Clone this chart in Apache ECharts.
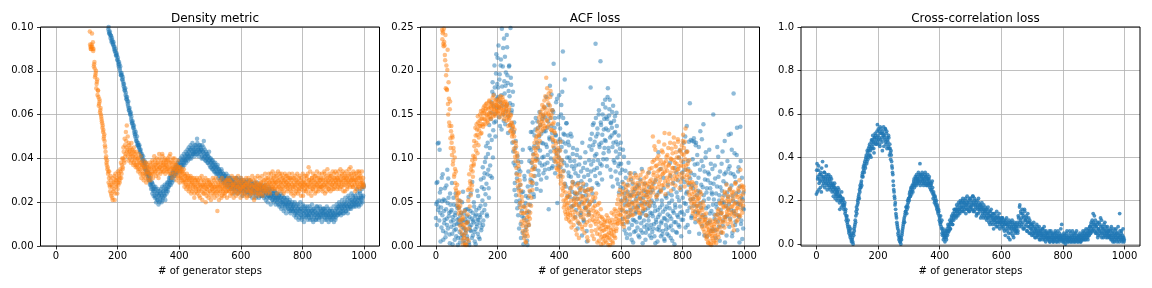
<!DOCTYPE html>
<html>
<head>
<meta charset="utf-8">
<script src="https://cdn.jsdelivr.net/npm/echarts@6/dist/echarts.min.js"></script>
<style>
html,body{margin:0;padding:0;background:#fff;}
#c{width:1152px;height:288px;}
</style>
</head>
<body>
<div id="c"></div>
<script>
// ---- data ----
const STEP = 2;                       // each array holds every other generator step
const xTicks = [0, 200, 400, 600, 800, 1000];
const titles = ['Density metric', 'ACF loss', 'Cross-correlation loss'];
const xLabel = '# of generator steps';
const densityTicks = [0, 0.02, 0.04, 0.06, 0.08, 0.10];
const acfTicks = [0, 0.05, 0.10, 0.15, 0.20, 0.25];
const crossTicks = [0, 0.2, 0.4, 0.6, 0.8, 1.0];

// Density metric, blue run: even steps from 170, odd steps from 171
const densityBlueStart = 170;
const densityBlue = [
0.099,0.098,0.097,0.0965,0.096,0.094,0.095,0.093,0.092,0.091,0.091,0.089,0.088,0.087,0.087,0.085,0.084,0.082,0.083,0.080,0.079,0.078,0.078,0.076,0.075,
0.073,0.072,0.071,0.069,0.068,0.067,0.066,0.064,0.063,0.062,0.061,0.060,0.058,0.057,0.056,0.055,0.054,0.052,0.051,0.051,0.049,0.048,0.047,0.046,0.046,
0.045,0.044,0.043,0.042,0.041,0.040,0.039,0.038,0.038,0.036,0.037,0.035,0.034,0.034,0.033,0.031,0.032,0.030,0.029,0.028,0.027,0.029,0.026,0.025,0.027,
0.025,0.023,0.026,0.022,0.024,0.021,0.025,0.023,0.020,0.024,0.022,0.026,0.023,0.021,0.025,0.024,0.027,0.023,0.026,0.025,0.028,0.026,0.029,0.027,0.030,
0.029,0.031,0.030,0.032,0.031,0.033,0.034,0.032,0.035,0.034,0.036,0.033,0.035,0.037,0.036,0.035,0.038,0.036,0.037,0.039,0.038,0.037,0.040,0.038,0.039,
0.040,0.039,0.041,0.040,0.042,0.041,0.043,0.040,0.042,0.044,0.041,0.043,0.042,0.045,0.043,0.042,0.044,0.046,0.043,0.049,0.042,0.045,0.044,0.043,0.046,
0.042,0.044,0.041,0.043,0.040,0.048,0.042,0.041,0.039,0.042,0.040,0.038,0.041,0.039,0.037,0.040,0.038,0.036,0.039,0.037,0.035,0.038,0.036,0.034,0.037,
0.035,0.034,0.036,0.033,0.035,0.032,0.034,0.033,0.031,0.034,0.032,0.030,0.033,0.031,0.029,0.032,0.030,0.031,0.028,0.030,0.029,0.031,0.028,0.030,0.027,
0.029,0.027,0.030,0.028,0.026,0.029,0.027,0.028,0.031,0.026,0.028,0.027,0.029,0.025,0.028,0.030,0.026,0.027,0.029,0.025,0.028,0.026,0.027,0.029,0.025,
0.027,0.025,0.028,0.026,0.024,0.027,0.029,0.025,0.026,0.028,0.024,0.027,0.025,0.026,0.028,0.023,0.026,0.027,0.025,0.024,0.027,0.026,0.023,0.028,0.025,
0.026,0.024,0.025,0.027,0.023,0.025,0.024,0.026,0.022,0.025,0.023,0.024,0.026,0.022,0.024,0.023,0.021,0.024,0.022,0.023,0.025,0.021,0.022,0.024,0.020,
0.022,0.021,0.023,0.019,0.021,0.022,0.020,0.018,0.021,0.020,0.022,0.019,0.017,0.020,0.019,0.021,0.018,0.019,0.017,0.020,0.018,0.016,0.019,0.017,0.018,
0.016,0.019,0.017,0.015,0.018,0.016,0.014,0.017,0.019,0.015,0.013,0.016,0.017,0.014,0.012,0.016,0.018,0.015,0.013,0.017,0.014,0.016,0.015,0.018,0.014,
0.016,0.013,0.015,0.017,0.014,0.016,0.012,0.015,0.017,0.013,0.016,0.014,0.012,0.015,0.018,0.014,0.016,0.013,0.015,0.017,0.014,0.016,0.013,0.015,0.017,
0.015,0.013,0.016,0.014,0.012,0.015,0.017,0.014,0.013,0.016,0.015,0.012,0.014,0.016,0.013,0.015,0.011,0.014,0.016,0.013,0.015,0.017,0.014,0.016,0.018,
0.017,0.015,0.018,0.016,0.019,0.017,0.015,0.018,0.020,0.017,0.019,0.016,0.018,0.021,0.017,0.019,0.022,0.018,0.020,0.017,0.021,0.019,0.023,0.020,0.018,
0.021,0.019,0.022,0.020,0.024,0.021,0.019,0.022,0.025,0.020,0.023,0.021,0.027,0.022,0.028
];
const densityBlueOddStart = 171;
const densityBlueOdd = [
0.100,0.097,0.098,0.095,0.096,0.093,0.094,0.092,0.093,0.090,0.089,0.090,0.087,0.088,0.085,0.086,0.083,0.084,0.081,0.082,0.078,0.079,0.076,0.077,0.074,
0.074,0.071,0.072,0.070,0.067,0.068,0.065,0.066,0.062,0.063,0.060,0.061,0.059,0.056,0.057,0.054,0.055,0.053,0.050,0.052,0.048,0.050,0.046,0.047,0.045,
0.046,0.043,0.044,0.041,0.042,0.039,0.041,0.037,0.039,0.035,0.038,0.033,0.036,0.032,0.034,0.030,0.033,0.028,0.031,0.026,0.029,0.024,0.028,0.023,0.026,
0.022,0.027,0.020,0.024,0.021,0.026,0.019,0.023,0.025,0.021,0.024,0.020,0.027,0.022,0.025,0.023,0.028,0.021,0.026,0.024,0.029,0.025,0.027,0.031,0.028,
0.032,0.028,0.033,0.029,0.034,0.030,0.035,0.032,0.036,0.033,0.037,0.034,0.038,0.035,0.039,0.036,0.034,0.040,0.037,0.041,0.036,0.039,0.042,0.037,0.041,
0.043,0.038,0.042,0.044,0.039,0.045,0.041,0.044,0.046,0.040,0.045,0.047,0.042,0.044,0.041,0.046,0.043,0.045,0.042,0.047,0.044,0.041,0.046,0.043,0.045,
0.044,0.040,0.046,0.043,0.045,0.041,0.044,0.039,0.043,0.040,0.042,0.038,0.041,0.043,0.039,0.036,0.040,0.038,0.035,0.039,0.037,0.034,0.036,0.038,0.033,
0.036,0.033,0.037,0.031,0.035,0.034,0.030,0.033,0.035,0.031,0.029,0.033,0.030,0.032,0.028,0.031,0.033,0.027,0.030,0.032,0.027,0.029,0.031,0.026,0.029,
0.031,0.026,0.029,0.024,0.030,0.028,0.025,0.031,0.027,0.029,0.024,0.030,0.026,0.028,0.031,0.025,0.029,0.023,0.028,0.030,0.026,0.024,0.029,0.027,0.030,
0.024,0.028,0.026,0.030,0.023,0.027,0.025,0.029,0.022,0.026,0.028,0.024,0.029,0.025,0.022,0.027,0.029,0.024,0.026,0.022,0.028,0.025,0.027,0.023,0.026,
0.023,0.027,0.022,0.025,0.028,0.021,0.024,0.026,0.020,0.023,0.027,0.022,0.025,0.019,0.023,0.026,0.021,0.024,0.020,0.025,0.022,0.019,0.023,0.021,0.024,
0.019,0.023,0.018,0.022,0.024,0.017,0.020,0.023,0.019,0.016,0.022,0.018,0.021,0.015,0.019,0.022,0.017,0.020,0.016,0.021,0.015,0.019,0.017,0.020,0.016,
0.018,0.014,0.020,0.016,0.013,0.019,0.015,0.017,0.012,0.018,0.016,0.020,0.014,0.017,0.013,0.019,0.015,0.011,0.016,0.018,0.013,0.017,0.014,0.012,0.016,
0.014,0.018,0.012,0.016,0.013,0.019,0.015,0.011,0.017,0.014,0.016,0.012,0.018,0.013,0.015,0.017,0.012,0.014,0.018,0.013,0.016,0.011,0.015,0.017,0.014,
0.017,0.012,0.016,0.014,0.018,0.013,0.015,0.011,0.016,0.013,0.017,0.014,0.012,0.016,0.014,0.018,0.013,0.015,0.012,0.017,0.019,0.014,0.018,0.015,0.020,
0.015,0.019,0.014,0.017,0.021,0.016,0.019,0.015,0.018,0.022,0.016,0.020,0.018,0.015,0.023,0.019,0.017,0.021,0.018,0.024,0.020,0.018,0.022,0.019,0.021,
0.023,0.018,0.020,0.026,0.019,0.022,0.018,0.021,0.024,0.019,0.022,0.026,0.020,0.023,0.027
];

// Density metric, orange run: even steps from 110, odd steps from 111
const densityOrangeStart = 110;
const densityOrange = [
0.098,0.091,0.090,0.092,0.091,0.093,0.090,0.083,0.081,0.078,0.080,0.074,0.076,0.071,0.068,0.065,0.066,0.062,0.060,0.058,0.056,0.055,0.053,0.050,0.048,
0.045,0.040,0.038,0.039,0.036,0.034,0.031,0.028,0.025,0.030,0.023,0.027,0.021,0.029,0.026,0.032,0.024,0.030,0.028,0.031,0.026,0.029,0.033,0.030,0.031,
0.034,0.031,0.037,0.035,0.040,0.043,0.038,0.046,0.042,0.048,0.055,0.044,0.041,0.047,0.043,0.040,0.045,0.042,0.039,0.044,0.041,0.038,0.043,0.040,0.037,
0.041,0.038,0.036,0.040,0.035,0.039,0.037,0.033,0.038,0.036,0.034,0.037,0.032,0.036,0.035,0.031,0.038,0.033,0.036,0.034,0.030,0.035,0.033,0.037,0.032,
0.036,0.034,0.038,0.033,0.037,0.035,0.039,0.034,0.036,0.038,0.033,0.037,0.035,0.040,0.036,0.034,0.038,0.035,0.041,0.037,0.034,0.039,0.036,0.038,0.035,
0.037,0.035,0.039,0.034,0.041,0.036,0.038,0.033,0.037,0.035,0.040,0.034,0.036,0.038,0.032,0.035,0.037,0.034,0.036,0.031,0.035,0.033,0.036,0.032,0.034,
0.031,0.034,0.030,0.033,0.029,0.032,0.028,0.031,0.030,0.027,0.032,0.029,0.026,0.031,0.028,0.030,0.025,0.029,0.027,0.031,0.024,0.028,0.030,0.026,0.029,
0.027,0.029,0.025,0.028,0.022,0.027,0.030,0.026,0.028,0.024,0.029,0.027,0.025,0.020,0.028,0.026,0.030,0.024,0.027,0.029,0.025,0.028,0.023,0.027,0.026,
0.028,0.025,0.027,0.024,0.029,0.026,0.027,0.016,0.025,0.028,0.024,0.027,0.026,0.029,0.023,0.027,0.025,0.028,0.026,0.024,0.029,0.027,0.025,0.030,0.026,
0.028,0.025,0.027,0.030,0.026,0.024,0.028,0.027,0.029,0.025,0.027,0.031,0.026,0.028,0.024,0.027,0.030,0.025,0.028,0.026,0.029,0.027,0.024,0.028,0.026,
0.027,0.029,0.025,0.028,0.026,0.023,0.027,0.029,0.025,0.028,0.026,0.030,0.024,0.027,0.025,0.028,0.026,0.022,0.027,0.029,0.025,0.028,0.026,0.024,0.027,
0.026,0.028,0.025,0.029,0.027,0.024,0.028,0.026,0.030,0.027,0.025,0.029,0.026,0.028,0.031,0.027,0.025,0.029,0.028,0.033,0.026,0.029,0.027,0.031,0.028,
0.030,0.027,0.029,0.032,0.026,0.028,0.030,0.027,0.033,0.029,0.026,0.028,0.031,0.027,0.029,0.025,0.030,0.028,0.032,0.027,0.029,0.026,0.030,0.028,0.031,
0.027,0.029,0.025,0.028,0.031,0.026,0.029,0.027,0.024,0.030,0.028,0.026,0.029,0.027,0.031,0.025,0.028,0.030,0.026,0.029,0.027,0.023,0.028,0.030,0.026,
0.029,0.027,0.031,0.026,0.028,0.036,0.030,0.027,0.029,0.025,0.031,0.028,0.026,0.030,0.027,0.032,0.029,0.025,0.028,0.031,0.027,0.029,0.026,0.030,0.028,
0.031,0.027,0.029,0.026,0.030,0.028,0.033,0.027,0.029,0.025,0.031,0.028,0.030,0.026,0.029,0.032,0.027,0.030,0.028,0.034,0.029,0.026,0.031,0.028,0.030,
0.029,0.031,0.027,0.030,0.028,0.032,0.026,0.030,0.029,0.033,0.027,0.031,0.028,0.030,0.025,0.032,0.029,0.031,0.027,0.030,0.028,0.033,0.029,0.036,0.030,
0.028,0.031,0.027,0.030,0.033,0.028,0.030,0.026,0.032,0.029,0.031,0.027,0.034,0.029,0.031,0.028,0.030,0.027,0.029,0.028
];
const densityOrangeOddStart = 111;
const densityOrangeOdd = [
0.092,0.090,0.091,0.097,0.090,0.089,0.082,0.084,0.077,0.079,0.072,0.075,0.069,0.071,0.064,0.067,0.061,0.063,0.059,0.057,0.054,0.052,0.049,0.051,0.046,
0.043,0.041,0.037,0.035,0.033,0.029,0.034,0.027,0.032,0.024,0.028,0.022,0.031,0.025,0.029,0.021,0.033,0.027,0.030,0.024,0.034,0.028,0.032,0.029,0.035,
0.038,0.033,0.040,0.036,0.045,0.039,0.049,0.041,0.052,0.045,0.043,0.050,0.039,0.046,0.042,0.044,0.038,0.047,0.041,0.043,0.037,0.045,0.039,0.042,0.036,
0.043,0.037,0.040,0.034,0.042,0.038,0.035,0.041,0.031,0.037,0.033,0.039,0.030,0.036,0.033,0.038,0.029,0.034,0.037,0.031,0.036,0.033,0.038,0.030,0.035,
0.033,0.039,0.031,0.036,0.041,0.034,0.037,0.032,0.040,0.035,0.038,0.031,0.042,0.036,0.033,0.039,0.037,0.042,0.034,0.038,0.036,0.040,0.033,0.037,0.039,
0.034,0.040,0.036,0.038,0.033,0.042,0.035,0.039,0.031,0.036,0.038,0.033,0.040,0.035,0.037,0.030,0.034,0.039,0.032,0.036,0.029,0.034,0.031,0.035,0.030,
0.033,0.029,0.035,0.027,0.032,0.030,0.026,0.033,0.028,0.031,0.025,0.030,0.027,0.032,0.024,0.029,0.031,0.026,0.028,0.022,0.030,0.027,0.025,0.031,0.024,
0.030,0.026,0.023,0.031,0.028,0.025,0.032,0.021,0.027,0.030,0.024,0.028,0.031,0.026,0.023,0.029,0.027,0.022,0.030,0.025,0.028,0.021,0.029,0.026,0.031,
0.024,0.030,0.022,0.027,0.031,0.025,0.023,0.029,0.027,0.021,0.030,0.025,0.028,0.022,0.031,0.026,0.024,0.029,0.023,0.027,0.030,0.025,0.022,0.028,0.031,
0.025,0.030,0.023,0.029,0.026,0.032,0.024,0.028,0.022,0.031,0.025,0.029,0.023,0.030,0.027,0.032,0.024,0.029,0.026,0.022,0.031,0.025,0.030,0.027,0.023,
0.030,0.024,0.028,0.031,0.022,0.029,0.025,0.031,0.027,0.023,0.030,0.025,0.028,0.032,0.024,0.030,0.021,0.027,0.031,0.024,0.029,0.026,0.032,0.023,0.028,
0.031,0.024,0.029,0.026,0.032,0.023,0.030,0.027,0.025,0.033,0.028,0.031,0.024,0.030,0.026,0.033,0.029,0.024,0.031,0.027,0.030,0.034,0.026,0.032,0.029,
0.026,0.033,0.029,0.024,0.031,0.034,0.027,0.030,0.025,0.032,0.029,0.033,0.026,0.031,0.024,0.030,0.033,0.027,0.029,0.032,0.025,0.031,0.028,0.033,0.026,
0.031,0.024,0.030,0.033,0.027,0.023,0.031,0.028,0.032,0.025,0.030,0.033,0.024,0.029,0.026,0.032,0.028,0.023,0.031,0.027,0.033,0.029,0.025,0.032,0.028,
0.025,0.032,0.028,0.033,0.024,0.030,0.027,0.034,0.029,0.023,0.031,0.026,0.033,0.028,0.030,0.024,0.032,0.027,0.034,0.029,0.025,0.031,0.033,0.027,0.030,
0.027,0.033,0.025,0.031,0.028,0.034,0.024,0.030,0.032,0.027,0.035,0.029,0.026,0.033,0.031,0.025,0.032,0.028,0.030,0.026,0.033,0.031,0.027,0.034,0.029,
0.033,0.026,0.031,0.034,0.028,0.030,0.035,0.027,0.032,0.029,0.034,0.025,0.031,0.033,0.028,0.030,0.034,0.026,0.032,0.029,0.035,0.031,0.027,0.033,0.030,
0.032,0.027,0.034,0.029,0.031,0.025,0.033,0.030,0.028,0.034,0.027,0.031,0.033,0.026,0.032,0.029,0.034,0.028,0.031,0.027
];

// ACF loss, blue run
const acfBlueStart = 0;
const acfBlue = [
0.032,0.072,0.050,0.117,0.045,0.052,0.110,0.038,0.065,0.021,0.051,0.082,0.007,0.040,0.030,0.052,0.015,0.069,0.024,0.049,0.077,0.034,0.013,0.060,0.039,
0.022,0.072,0.002,0.029,0.047,0.018,0.035,0.060,0.011,0.025,0.043,0.009,0.031,0.052,0.004,0.024,0.038,0.013,0.029,0.062,0.006,0.020,0.041,0.015,0.027,
0.034,0.008,0.028,0.056,0.001,0.022,0.040,0.017,0.031,0.073,0.012,0.027,0.045,0.005,0.019,0.036,0.025,0.063,0.014,0.030,0.043,0.008,0.033,0.076,0.021,
0.038,0.090,0.029,0.065,0.083,0.047,0.101,0.071,0.034,0.118,0.087,0.055,0.126,0.092,0.145,0.164,0.078,0.187,0.132,0.173,0.206,0.151,0.142,0.219,0.168,
0.215,0.181,0.158,0.190,0.137,0.206,0.172,0.248,0.160,0.226,0.143,0.188,0.216,0.183,0.154,0.241,0.195,0.129,0.177,0.206,0.163,0.249,0.184,0.155,0.118,
0.176,0.095,0.141,0.072,0.112,0.058,0.083,0.043,0.097,0.066,0.020,0.052,0.085,0.009,0.061,0.034,0.110,0.002,0.045,0.076,0.018,0.057,0.029,0.006,0.068,
0.085,0.039,0.112,0.062,0.130,0.095,0.074,0.141,0.105,0.056,0.126,0.088,0.146,0.071,0.118,0.099,0.135,0.081,0.153,0.109,0.063,0.128,0.092,0.145,0.117,
0.102,0.158,0.087,0.131,0.170,0.113,0.095,0.142,0.042,0.124,0.183,0.108,0.137,0.089,0.155,0.119,0.208,0.097,0.146,0.127,0.164,0.110,0.049,0.139,0.101,
0.172,0.122,0.090,0.150,0.113,0.176,0.222,0.128,0.095,0.190,0.117,0.068,0.140,0.101,0.126,0.084,0.115,0.056,0.097,0.079,0.125,0.062,0.105,0.046,0.088,
0.071,0.033,0.092,0.059,0.110,0.020,0.080,0.047,0.066,0.101,0.038,0.074,0.012,0.057,0.089,0.028,0.063,0.095,0.043,0.070,0.005,0.052,0.081,0.036,0.114,
0.075,0.181,0.093,0.128,0.060,0.115,0.140,0.087,0.103,0.231,0.125,0.072,0.134,0.098,0.150,0.116,0.083,0.211,0.138,0.092,0.127,0.162,0.106,0.145,0.121,
0.158,0.134,0.099,0.145,0.180,0.112,0.149,0.167,0.087,0.140,0.126,0.153,0.068,0.118,0.143,0.095,0.130,0.108,0.152,0.076,0.116,0.091,0.061,0.105,0.083,
0.118,0.052,0.087,0.031,0.066,0.102,0.018,0.055,0.078,0.039,0.009,0.062,0.027,0.047,0.083,0.013,0.036,0.058,0.024,0.071,0.004,0.044,0.029,0.065,0.017,
0.039,0.057,0.021,0.046,0.070,0.010,0.033,0.054,0.026,0.088,0.015,0.040,0.063,0.022,0.048,0.007,0.035,0.058,0.019,0.043,0.029,0.067,0.012,0.038,0.024,
0.052,0.016,0.034,0.071,0.025,0.045,0.003,0.030,0.058,0.019,0.041,0.107,0.022,0.036,0.063,0.011,0.028,0.047,0.017,0.078,0.032,0.006,0.042,0.024,0.055,
0.014,0.036,0.060,0.021,0.043,0.095,0.009,0.031,0.052,0.018,0.072,0.038,0.002,0.047,0.027,0.084,0.015,0.056,0.033,0.101,0.022,0.045,0.064,0.011,0.039,
0.077,0.030,0.118,0.049,0.087,0.021,0.060,0.137,0.040,0.097,0.070,0.016,0.163,0.053,0.083,0.034,0.120,0.066,0.046,0.119,0.093,0.027,0.118,0.058,0.104,
0.038,0.078,0.014,0.061,0.131,0.044,0.097,0.023,0.067,0.139,0.052,0.085,0.033,0.107,0.061,0.011,0.075,0.045,0.082,0.028,0.066,0.094,0.040,0.059,0.019,
0.150,0.053,0.031,0.077,0.009,0.048,0.068,0.036,0.102,0.022,0.058,0.085,0.041,0.015,0.063,0.108,0.029,0.050,0.082,0.004,0.046,0.071,0.034,0.097,0.056,
0.127,0.022,0.065,0.083,0.041,0.110,0.015,0.052,0.174,0.037,0.079,0.028,0.060,0.104,0.018,0.048,0.090,0.033,0.068,0.136,0.025,0.055,0.008,0.043,0.061
];
const acfBlueOddStart = 1;
const acfBlueOdd = [
0.048,0.024,0.073,0.041,0.118,0.029,0.061,0.005,0.044,0.078,0.035,0.017,0.053,0.026,0.066,0.010,0.042,0.031,0.087,0.020,0.055,0.038,0.003,0.047,0.028,
0.041,0.014,0.033,0.055,0.024,0.007,0.038,0.019,0.046,0.030,0.001,0.026,0.044,0.016,0.035,0.009,0.028,0.050,0.021,0.012,0.037,0.003,0.030,0.018,0.042,
0.011,0.026,0.042,0.004,0.033,0.018,0.060,0.024,0.009,0.038,0.029,0.050,0.016,0.034,0.002,0.041,0.022,0.030,0.057,0.010,0.035,0.026,0.046,0.018,0.067,
0.052,0.024,0.078,0.041,0.096,0.059,0.114,0.036,0.082,0.105,0.066,0.138,0.112,0.080,0.152,0.121,0.176,0.101,0.160,0.141,0.181,0.125,0.197,0.158,0.185,
0.170,0.229,0.147,0.196,0.164,0.213,0.133,0.182,0.205,0.150,0.237,0.174,0.139,0.198,0.160,0.227,0.186,0.148,0.205,0.171,0.138,0.192,0.152,0.134,0.161,
0.108,0.130,0.064,0.092,0.120,0.051,0.077,0.103,0.035,0.088,0.047,0.070,0.025,0.096,0.040,0.015,0.062,0.032,0.080,0.011,0.049,0.022,0.038,0.001,0.055,
0.024,0.097,0.047,0.076,0.110,0.069,0.130,0.090,0.059,0.114,0.080,0.133,0.100,0.065,0.142,0.112,0.086,0.125,0.095,0.138,0.076,0.118,0.101,0.149,0.083,
0.131,0.093,0.147,0.116,0.078,0.135,0.104,0.161,0.088,0.122,0.146,0.100,0.173,0.129,0.091,0.153,0.112,0.135,0.083,0.126,0.105,0.168,0.092,0.119,0.147,
0.109,0.134,0.080,0.161,0.098,0.119,0.146,0.086,0.127,0.071,0.108,0.140,0.092,0.057,0.119,0.080,0.101,0.066,0.128,0.045,0.091,0.073,0.112,0.054,0.097,
0.060,0.083,0.041,0.104,0.054,0.072,0.026,0.093,0.061,0.035,0.085,0.050,0.118,0.068,0.030,0.079,0.044,0.107,0.058,0.017,0.087,0.064,0.039,0.098,0.048,
0.122,0.085,0.110,0.066,0.138,0.097,0.051,0.119,0.080,0.146,0.105,0.089,0.128,0.070,0.155,0.113,0.094,0.141,0.118,0.076,0.150,0.099,0.133,0.112,0.167,
0.120,0.147,0.091,0.170,0.132,0.108,0.156,0.124,0.141,0.079,0.135,0.113,0.160,0.098,0.129,0.148,0.085,0.119,0.137,0.101,0.071,0.126,0.094,0.111,0.067,
0.094,0.041,0.073,0.110,0.025,0.060,0.047,0.086,0.014,0.052,0.070,0.033,0.095,0.020,0.058,0.041,0.076,0.007,0.050,0.030,0.062,0.016,0.083,0.037,0.053,
0.027,0.068,0.044,0.012,0.060,0.032,0.076,0.018,0.049,0.037,0.003,0.055,0.029,0.071,0.041,0.015,0.062,0.024,0.050,0.034,0.084,0.020,0.046,0.061,0.009,
0.037,0.064,0.020,0.049,0.011,0.040,0.075,0.027,0.053,0.005,0.033,0.061,0.018,0.044,0.088,0.026,0.052,0.013,0.039,0.066,0.008,0.031,0.057,0.019,0.045,
0.029,0.070,0.012,0.049,0.034,0.080,0.023,0.058,0.006,0.040,0.065,0.027,0.089,0.044,0.016,0.061,0.035,0.075,0.024,0.052,0.109,0.038,0.068,0.030,0.084,
0.055,0.096,0.036,0.073,0.125,0.048,0.108,0.062,0.024,0.088,0.119,0.044,0.077,0.121,0.032,0.069,0.099,0.054,0.123,0.081,0.039,0.115,0.072,0.046,0.094,
0.063,0.113,0.030,0.087,0.049,0.070,0.122,0.035,0.091,0.058,0.012,0.076,0.101,0.043,0.066,0.026,0.084,0.054,0.110,0.037,0.072,0.017,0.061,0.088,0.047,
0.071,0.036,0.092,0.018,0.060,0.044,0.113,0.028,0.079,0.052,0.006,0.067,0.037,0.094,0.049,0.023,0.074,0.058,0.120,0.033,0.084,0.012,0.061,0.043,0.088,
0.048,0.091,0.031,0.128,0.069,0.011,0.057,0.082,0.040,0.106,0.024,0.073,0.050,0.135,0.035,0.085,0.062,0.004,0.047,0.097,0.029,0.078,0.053,0.020,0.042
];

// ACF loss, orange run (steps below 20 are above the axis top)
const acfOrangeStart = 20;
const acfOrange = [
0.247,0.243,0.231,0.248,0.229,0.212,0.180,0.206,0.178,0.224,0.150,0.168,0.137,0.165,0.112,
0.137,0.104,0.124,0.097,0.108,0.082,0.088,0.066,0.063,0.055,0.047,0.060,0.037,0.041,0.023,0.051,0.030,0.014,0.033,0.002,0.024,0.009,0.040,0.003,0.019,
0.001,0.027,0.064,0.006,0.082,0.045,0.071,0.087,0.064,0.098,0.079,0.092,0.120,0.102,0.135,0.109,0.139,0.127,0.148,0.115,0.132,0.143,0.137,0.154,0.129,
0.146,0.155,0.139,0.152,0.160,0.144,0.157,0.149,0.163,0.141,0.156,0.151,0.165,0.147,0.158,0.162,0.153,0.169,0.148,0.159,0.155,0.165,0.151,0.161,0.157,
0.163,0.154,0.168,0.158,0.151,0.166,0.160,0.155,0.170,0.152,0.162,0.158,0.149,0.165,0.156,0.161,0.147,0.153,0.144,0.158,0.138,0.150,0.132,0.141,0.128,
0.136,0.119,0.125,0.108,0.097,0.114,0.082,0.102,0.068,0.091,0.058,0.075,0.044,0.063,0.028,0.051,0.017,0.037,0.009,0.026,0.044,0.004,0.018,0.033,0.011,
0.047,0.024,0.063,0.038,0.081,0.055,0.095,0.072,0.104,0.088,0.118,0.097,0.110,0.125,0.103,0.134,0.117,0.142,0.127,0.138,0.150,0.131,0.145,0.156,0.140,
0.148,0.166,0.135,0.157,0.192,0.143,0.168,0.151,0.174,0.139,0.160,0.177,0.146,0.132,0.155,0.121,0.141,0.108,0.129,0.096,0.117,0.103,0.087,0.112,0.094,
0.101,0.082,0.119,0.075,0.093,0.066,0.085,0.052,0.071,0.047,0.061,0.036,0.055,0.042,0.037,0.049,0.029,0.058,0.035,0.066,0.021,0.045,0.073,0.031,0.052,
0.039,0.061,0.018,0.047,0.069,0.028,0.054,0.009,0.043,0.064,0.033,0.057,0.022,0.048,0.071,0.036,0.015,0.052,0.041,0.062,0.027,0.045,0.006,0.058,0.038,
0.050,0.023,0.065,0.034,0.012,0.056,0.040,0.028,0.046,0.018,0.060,0.031,0.004,0.037,0.021,0.049,0.013,0.026,0.002,0.033,0.017,0.008,0.024,0.011,0.029,
0.006,0.019,0.035,0.010,0.022,0.001,0.015,0.028,0.007,0.018,0.038,0.012,0.003,0.024,0.016,0.042,0.009,0.031,0.020,0.048,0.026,0.037,0.058,0.030,0.044,
0.035,0.051,0.027,0.062,0.040,0.022,0.055,0.033,0.068,0.046,0.029,0.060,0.038,0.075,0.050,0.044,0.083,0.057,0.035,0.066,0.049,0.078,0.041,0.059,0.070,
0.052,0.044,0.072,0.060,0.038,0.066,0.055,0.081,0.047,0.063,0.071,0.042,0.058,0.077,0.050,0.064,0.035,0.069,0.056,0.083,0.061,0.046,0.074,0.057,0.067,
0.089,0.072,0.125,0.081,0.098,0.066,0.110,0.077,0.092,0.058,0.085,0.103,0.071,0.094,0.079,0.062,0.088,0.069,0.107,0.083,0.095,0.129,0.074,0.090,0.102,
0.086,0.068,0.112,0.093,0.077,0.118,0.084,0.099,0.071,0.106,0.089,0.124,0.080,0.095,0.113,0.076,0.101,0.087,0.119,0.091,0.082,0.108,0.073,0.097,0.115,
0.083,0.127,0.104,0.079,0.119,0.134,0.092,0.075,0.108,0.086,0.061,0.098,0.072,0.053,0.067,0.044,0.059,0.037,0.071,0.048,0.056,0.034,0.063,0.041,0.052,
0.046,0.029,0.055,0.038,0.062,0.025,0.043,0.033,0.050,0.019,0.036,0.027,0.012,0.031,0.008,0.022,0.015,0.003,0.018,0.026,0.006,0.014,0.001,0.021,0.009,
0.017,0.004,0.025,0.011,0.030,0.007,0.019,0.036,0.013,0.042,0.024,0.031,0.048,0.016,0.038,0.055,0.027,0.044,0.021,0.060,0.033,0.051,0.039,0.025,0.057,
0.041,0.064,0.030,0.052,0.037,0.058,0.045,0.023,0.062,0.034,0.049,0.071,0.040,0.028,0.056,0.044,0.066,0.035,0.053,0.087,0.047,0.069,0.038,0.059,0.068
];
const acfOrangeOddStart = 21;
const acfOrangeOdd = [
0.236,0.245,0.228,0.233,0.218,0.241,0.195,0.179,0.201,0.162,0.187,0.141,0.156,0.123,0.131,
0.118,0.126,0.093,0.112,0.079,0.101,0.072,0.085,0.058,0.070,0.052,0.044,0.061,0.029,0.046,0.018,0.038,0.025,0.007,0.031,0.012,0.021,0.001,0.015,0.026,
0.008,0.036,0.052,0.020,0.066,0.074,0.058,0.091,0.069,0.085,0.103,0.094,0.114,0.099,0.126,0.118,0.133,0.106,0.141,0.124,0.137,0.150,0.128,0.145,0.139,
0.151,0.136,0.158,0.145,0.154,0.139,0.162,0.150,0.143,0.158,0.147,0.166,0.152,0.160,0.145,0.157,0.163,0.150,0.172,0.156,0.161,0.149,0.167,0.154,0.160,
0.152,0.166,0.159,0.147,0.171,0.157,0.163,0.150,0.167,0.155,0.145,0.164,0.153,0.159,0.143,0.162,0.150,0.137,0.155,0.146,0.131,0.149,0.140,0.125,0.137,
0.129,0.111,0.133,0.102,0.118,0.089,0.106,0.074,0.095,0.063,0.081,0.049,0.070,0.038,0.056,0.023,0.045,0.013,0.030,0.038,0.005,0.022,0.014,0.040,0.027,
0.034,0.057,0.031,0.073,0.046,0.087,0.064,0.099,0.080,0.112,0.091,0.106,0.122,0.098,0.131,0.113,0.126,0.147,0.120,0.153,0.136,0.142,0.161,0.133,0.150,
0.159,0.137,0.171,0.152,0.144,0.180,0.136,0.163,0.149,0.155,0.170,0.133,0.150,0.124,0.139,0.114,0.131,0.100,0.120,0.109,0.089,0.106,0.097,0.079,0.090,
0.086,0.109,0.071,0.098,0.058,0.079,0.063,0.044,0.068,0.039,0.052,0.031,0.047,0.056,0.033,0.043,0.061,0.038,0.027,0.052,0.041,0.069,0.035,0.024,0.047,
0.055,0.032,0.050,0.013,0.060,0.037,0.071,0.045,0.025,0.053,0.066,0.040,0.019,0.056,0.031,0.049,0.063,0.024,0.044,0.054,0.010,0.035,0.065,0.047,0.029,
0.041,0.063,0.017,0.052,0.030,0.044,0.008,0.035,0.055,0.025,0.039,0.014,0.047,0.028,0.006,0.034,0.019,0.042,0.010,0.023,0.031,0.003,0.018,0.027,0.012,
0.022,0.004,0.028,0.013,0.032,0.009,0.021,0.001,0.026,0.014,0.030,0.005,0.019,0.036,0.011,0.027,0.040,0.017,0.034,0.025,0.053,0.029,0.041,0.064,0.036,
0.048,0.025,0.059,0.043,0.071,0.031,0.052,0.038,0.064,0.027,0.057,0.047,0.069,0.034,0.054,0.079,0.040,0.062,0.048,0.073,0.036,0.057,0.066,0.045,0.081,
0.063,0.049,0.078,0.041,0.068,0.054,0.037,0.074,0.060,0.046,0.085,0.052,0.067,0.043,0.072,0.058,0.079,0.048,0.062,0.071,0.053,0.088,0.064,0.050,0.076,
0.068,0.096,0.061,0.084,0.114,0.073,0.091,0.056,0.100,0.080,0.067,0.119,0.087,0.075,0.098,0.064,0.109,0.082,0.093,0.070,0.116,0.085,0.059,0.097,0.078,
0.104,0.073,0.092,0.128,0.081,0.100,0.063,0.111,0.089,0.076,0.098,0.117,0.085,0.069,0.107,0.094,0.079,0.122,0.088,0.101,0.066,0.110,0.092,0.078,0.105,
0.120,0.091,0.112,0.068,0.099,0.087,0.107,0.081,0.094,0.072,0.079,0.058,0.085,0.065,0.049,0.073,0.054,0.040,0.062,0.050,0.031,0.068,0.045,0.058,0.036,
0.054,0.040,0.027,0.048,0.033,0.059,0.022,0.041,0.029,0.046,0.016,0.030,0.023,0.037,0.010,0.026,0.004,0.019,0.013,0.030,0.002,0.024,0.011,0.017,0.028,
0.006,0.022,0.014,0.035,0.003,0.027,0.018,0.040,0.010,0.032,0.049,0.021,0.037,0.028,0.052,0.015,0.045,0.033,0.062,0.029,0.046,0.070,0.036,0.054,0.043,
0.050,0.035,0.066,0.027,0.045,0.061,0.039,0.054,0.018,0.048,0.072,0.036,0.058,0.043,0.030,0.063,0.049,0.075,0.034,0.057,0.042,0.067,0.051,0.046,0.064
];

// Cross-correlation loss
const crossStart = 0;
const crossCorr = [
0.23,0.37,0.30,0.34,0.25,0.32,0.29,0.33,0.24,0.31,0.38,0.30,0.28,0.33,0.29,0.31,0.36,0.27,0.30,0.28,0.32,0.26,0.29,0.31,0.27,
0.26,0.28,0.25,0.27,0.24,0.26,0.23,0.25,0.22,0.24,0.26,0.21,0.23,0.16,0.22,0.20,0.24,0.19,0.21,0.18,0.17,0.19,0.15,0.13,0.12,
0.10,0.08,0.07,0.05,0.06,0.03,0.04,0.01,0.02,0.01,0.05,0.07,0.08,0.11,0.13,0.17,0.16,0.20,0.21,0.23,0.25,0.27,0.26,0.29,0.31,
0.33,0.35,0.34,0.37,0.36,0.39,0.41,0.38,0.42,0.40,0.43,0.45,0.41,0.44,0.47,0.45,0.48,0.46,0.44,0.49,0.47,0.50,0.48,0.46,0.55,
0.50,0.48,0.52,0.45,0.51,0.53,0.49,0.43,0.51,0.54,0.50,0.48,0.53,0.46,0.52,0.49,0.47,0.50,0.44,0.46,0.42,0.43,0.38,0.35,0.32,
0.27,0.24,0.21,0.19,0.14,0.12,0.09,0.07,0.04,0.02,0.03,0.01,0.00,0.02,0.05,0.07,0.09,0.11,0.10,0.14,0.15,0.17,0.16,0.20,0.19,
0.21,0.23,0.22,0.25,0.24,0.26,0.25,0.27,0.29,0.26,0.28,0.30,0.27,0.31,0.29,0.30,0.28,0.32,0.37,0.29,0.31,0.28,0.32,0.30,0.27,
0.30,0.32,0.28,0.31,0.29,0.27,0.30,0.28,0.31,0.26,0.28,0.27,0.25,0.29,0.23,0.24,0.22,0.20,0.21,0.19,0.17,0.18,0.15,0.16,0.13,
0.12,0.09,0.10,0.07,0.05,0.06,0.02,0.04,0.03,0.06,0.04,0.02,0.07,0.05,0.08,0.06,0.09,0.07,0.10,0.12,0.11,0.09,0.13,0.12,0.15,
0.14,0.16,0.13,0.15,0.17,0.14,0.16,0.18,0.15,0.19,0.17,0.16,0.20,0.18,0.15,0.19,0.17,0.21,0.18,0.16,0.19,0.17,0.20,0.15,0.18,
0.21,0.17,0.19,0.16,0.22,0.18,0.15,0.20,0.17,0.19,0.14,0.18,0.16,0.21,0.17,0.15,0.18,0.16,0.13,0.17,0.15,0.12,0.16,0.14,0.17,
0.15,0.13,0.16,0.12,0.14,0.10,0.13,0.15,0.11,0.13,0.12,0.09,0.14,0.11,0.13,0.10,0.12,0.08,0.11,0.13,0.10,0.12,0.09,0.11,0.10,
0.11,0.09,0.12,0.08,0.10,0.06,0.09,0.11,0.07,0.09,0.08,0.10,0.05,0.08,0.02,0.09,0.07,0.10,0.06,0.08,0.03,0.07,0.09,0.06,0.08,
0.07,0.10,0.06,0.12,0.09,0.18,0.11,0.14,0.08,0.16,0.10,0.13,0.07,0.15,0.11,0.09,0.12,0.06,0.14,0.10,0.08,0.11,0.05,0.09,0.07,
0.06,0.09,0.04,0.08,0.05,0.07,0.03,0.06,0.08,0.04,0.05,0.07,0.02,0.06,0.04,0.03,0.05,0.07,0.02,0.04,0.06,0.03,0.01,0.05,0.03,
0.04,0.02,0.03,0.06,0.01,0.03,0.05,0.02,0.04,0.01,0.03,0.02,0.05,0.03,0.01,0.04,0.02,0.06,0.03,0.01,0.02,0.04,0.03,0.09,0.02,
0.03,0.01,0.04,0.02,0.00,0.03,0.05,0.02,0.01,0.03,0.02,0.06,0.01,0.03,0.02,0.04,0.01,0.02,0.05,0.03,0.01,0.02,0.06,0.03,0.02,
0.01,0.03,0.02,0.04,0.01,0.02,0.03,0.05,0.02,0.04,0.03,0.06,0.02,0.04,0.05,0.03,0.07,0.04,0.06,0.08,0.05,0.10,0.06,0.08,0.14,
0.07,0.13,0.09,0.05,0.08,0.06,0.10,0.04,0.07,0.05,0.09,0.12,0.06,0.03,0.08,0.05,0.07,0.04,0.10,0.06,0.03,0.05,0.08,0.04,0.06,
0.05,0.03,0.07,0.02,0.04,0.06,0.01,0.03,0.05,0.02,0.04,0.07,0.03,0.01,0.05,0.02,0.03,0.14,0.04,0.02,0.06,0.01,0.03,0.02,0.01
];
const crossOddStart = 1;
const crossCorrOdd = [
0.34,0.24,0.31,0.36,0.28,0.30,0.26,0.32,0.35,0.29,0.27,0.31,0.33,0.26,0.30,0.28,0.32,0.25,0.29,0.31,0.27,0.30,0.25,0.28,0.30,
0.24,0.27,0.22,0.26,0.28,0.21,0.25,0.23,0.20,0.24,0.22,0.25,0.19,0.22,0.20,0.17,0.21,0.18,0.20,0.16,0.18,0.14,0.16,0.11,0.13,
0.09,0.11,0.06,0.08,0.04,0.07,0.02,0.05,0.03,0.00,0.04,0.06,0.09,0.10,0.15,0.14,0.18,0.19,0.22,0.21,0.24,0.26,0.28,0.27,0.32,
0.31,0.36,0.33,0.38,0.35,0.40,0.37,0.43,0.39,0.44,0.41,0.46,0.43,0.40,0.48,0.44,0.50,0.47,0.42,0.49,0.51,0.46,0.49,0.52,0.47,
0.53,0.49,0.46,0.54,0.48,0.51,0.47,0.52,0.50,0.45,0.49,0.53,0.47,0.51,0.44,0.48,0.45,0.49,0.41,0.44,0.39,0.41,0.36,0.33,0.29,
0.25,0.22,0.18,0.16,0.13,0.10,0.08,0.05,0.06,0.03,0.01,0.02,0.03,0.04,0.06,0.08,0.10,0.12,0.13,0.15,0.17,0.14,0.18,0.17,0.21,
0.20,0.24,0.22,0.26,0.23,0.27,0.24,0.28,0.30,0.27,0.31,0.29,0.32,0.28,0.30,0.33,0.29,0.31,0.27,0.32,0.30,0.33,0.29,0.31,0.28,
0.29,0.33,0.31,0.27,0.30,0.32,0.28,0.30,0.29,0.27,0.25,0.28,0.24,0.26,0.21,0.23,0.19,0.22,0.18,0.20,0.16,0.17,0.14,0.15,0.11,
0.10,0.13,0.08,0.11,0.04,0.07,0.05,0.03,0.01,0.05,0.03,0.06,0.04,0.09,0.06,0.08,0.11,0.07,0.10,0.13,0.09,0.14,0.11,0.16,0.13,
0.16,0.12,0.18,0.15,0.13,0.19,0.16,0.14,0.20,0.17,0.19,0.15,0.21,0.17,0.19,0.16,0.20,0.14,0.18,0.22,0.16,0.19,0.15,0.21,0.17,
0.16,0.20,0.18,0.22,0.15,0.19,0.21,0.16,0.18,0.13,0.20,0.17,0.14,0.19,0.16,0.18,0.12,0.17,0.19,0.14,0.16,0.18,0.13,0.15,0.12,
0.16,0.11,0.14,0.17,0.12,0.15,0.09,0.13,0.16,0.10,0.14,0.12,0.07,0.11,0.14,0.09,0.12,0.15,0.10,0.08,0.12,0.14,0.07,0.10,0.12,
0.08,0.12,0.10,0.07,0.11,0.09,0.04,0.10,0.12,0.06,0.09,0.03,0.11,0.07,0.10,0.05,0.08,0.11,0.04,0.09,0.07,0.10,0.05,0.08,0.06,
0.09,0.05,0.13,0.08,0.17,0.10,0.15,0.12,0.09,0.14,0.07,0.12,0.16,0.08,0.11,0.13,0.06,0.10,0.08,0.12,0.05,0.10,0.07,0.09,0.04,
0.08,0.05,0.10,0.06,0.03,0.07,0.05,0.09,0.04,0.06,0.03,0.08,0.05,0.02,0.06,0.04,0.07,0.03,0.05,0.08,0.02,0.04,0.06,0.03,0.05,
0.02,0.05,0.03,0.01,0.04,0.06,0.02,0.03,0.05,0.01,0.04,0.02,0.06,0.03,0.05,0.01,0.03,0.04,0.02,0.05,0.03,0.07,0.02,0.04,0.01,
0.02,0.05,0.03,0.01,0.04,0.02,0.06,0.03,0.01,0.04,0.02,0.03,0.05,0.01,0.03,0.06,0.02,0.04,0.01,0.03,0.05,0.02,0.04,0.01,0.03,
0.04,0.02,0.05,0.01,0.03,0.04,0.02,0.06,0.03,0.05,0.02,0.04,0.07,0.03,0.05,0.02,0.06,0.04,0.08,0.05,0.09,0.07,0.11,0.06,0.10,
0.09,0.06,0.11,0.08,0.05,0.09,0.03,0.07,0.10,0.06,0.04,0.08,0.11,0.05,0.07,0.03,0.09,0.06,0.04,0.08,0.05,0.07,0.03,0.06,0.04,
0.03,0.06,0.04,0.08,0.02,0.05,0.03,0.07,0.01,0.04,0.06,0.02,0.05,0.03,0.08,0.04,0.01,0.06,0.03,0.05,0.02,0.04,0.07,0.03,0.02
];

// ---- chart ----
const BLUE = '#1f77b4', ORANGE = '#ff7f0e';
const FONT = 'DejaVu Sans';
function pts(start, vals) { return vals.map((v, i) => [start + i * STEP, v]); }

const panels = [
  { title: titles[0], ticks: densityTicks, dataMin: 0, digits: 2, alpha: 0.5, size: 4.5,
    series: [[[densityBlueStart, densityBlue], [densityBlueOddStart, densityBlueOdd], BLUE],
             [[densityOrangeStart, densityOrange], [densityOrangeOddStart, densityOrangeOdd], ORANGE]] },
  { title: titles[1], ticks: acfTicks, dataMin: 0, digits: 2, alpha: 0.5, size: 4.5,
    series: [[[acfBlueStart, acfBlue], [acfBlueOddStart, acfBlueOdd], BLUE],
             [[acfOrangeStart, acfOrange], [acfOrangeOddStart, acfOrangeOdd], ORANGE]] },
  { title: titles[2], ticks: crossTicks, dataMin: -0.0092, digits: 1, alpha: 0.8, size: 3.8,
    series: [[[crossStart, crossCorr], [crossOddStart, crossCorrOdd], BLUE]] }
];

const LEFTS = [40.5, 420.5, 801];
const TOP = 27, W = 339, H = 219;
const XMIN = -50, XMAX = 1050;

const option = { animation: false, backgroundColor: '#fff', title: [], grid: [], xAxis: [], yAxis: [], series: [] };

panels.forEach((p, k) => {
  const L = LEFTS[k];
  const pxPerX = W / (XMAX - XMIN);
  const x0 = L + (xTicks[0] - XMIN) * pxPerX;
  const xw = (xTicks[xTicks.length - 1] - xTicks[0]) * pxPerX;
  const yMax = p.ticks[p.ticks.length - 1];
  const yMinT = p.ticks[0];
  const pxPerY = H / (yMax - p.dataMin);
  const yh = (yMax - yMinT) * pxPerY;
  const g = k * 3;

  option.title.push({
    text: p.title, left: L + W / 2, top: 8, textAlign: 'center',
    textStyle: { fontFamily: FONT, fontSize: 12, fontWeight: 'normal', color: '#000' }
  });

  option.grid.push({ left: L, top: TOP, width: W, height: H, show: true, borderColor: '#000', borderWidth: 1, backgroundColor: 'transparent', z: 5 });
  option.grid.push({ left: x0, top: TOP, width: xw, height: H });
  option.grid.push({ left: L, top: TOP, width: W, height: yh });

  option.xAxis.push({ gridIndex: g, type: 'value', min: XMIN, max: XMAX, show: false });
  option.yAxis.push({ gridIndex: g, type: 'value', min: p.dataMin, max: yMax, show: false });

  option.xAxis.push({
    gridIndex: g + 1, type: 'value', min: xTicks[0], max: xTicks[xTicks.length - 1],
    interval: xTicks[1] - xTicks[0],
    axisLine: { show: false },
    axisTick: { show: true, length: 3.5, lineStyle: { color: '#000', width: 0.8 } },
    axisLabel: { fontFamily: FONT, fontSize: 10, color: '#000', margin: 5, formatter: v => String(v) },
    splitLine: { show: true, lineStyle: { color: '#b0b0b0', width: 0.8 } },
    name: xLabel, nameLocation: 'middle', nameGap: 20,
    nameTextStyle: { fontFamily: FONT, fontSize: 10, color: '#000' }
  });
  option.yAxis.push({ gridIndex: g + 1, type: 'value', show: false });

  option.xAxis.push({ gridIndex: g + 2, type: 'value', min: 0, max: 1, show: false });
  option.yAxis.push({
    gridIndex: g + 2, type: 'value', min: yMinT, max: yMax, interval: p.ticks[1] - p.ticks[0],
    axisLine: { show: false },
    axisTick: { show: true, length: 3.5, lineStyle: { color: '#000', width: 0.8 } },
    axisLabel: { fontFamily: FONT, fontSize: 10, color: '#000', margin: 7,
      formatter: v => Number(v).toFixed(p.digits) },
    splitLine: { show: true, lineStyle: { color: '#b0b0b0', width: 0.8 } }
  });

  p.series.forEach(([even, odd, color]) => {
    option.series.push({
      type: 'scatter', xAxisIndex: g, yAxisIndex: g,
      data: pts(even[0], even[1]).concat(pts(odd[0], odd[1])),
      symbol: 'circle', symbolSize: p.size,
      itemStyle: { color: color, opacity: p.alpha }, clip: true, silent: true
    });
  });
});

const chart = echarts.init(document.getElementById('c'), null, { renderer: 'canvas' });
chart.setOption(option);
</script>
</body>
</html>
